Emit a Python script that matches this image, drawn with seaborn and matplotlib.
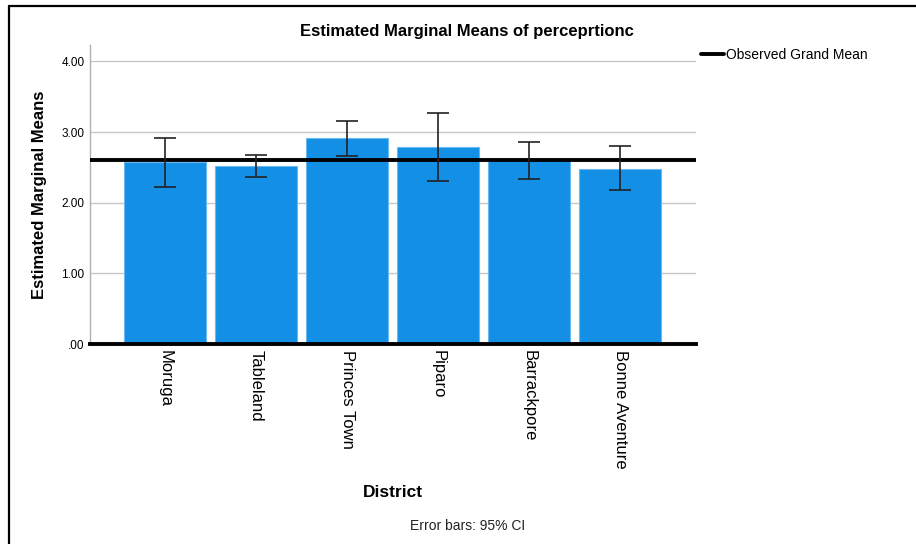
import numpy as np
import pandas as pd
import matplotlib
matplotlib.use('Agg')
import matplotlib.pyplot as plt
import seaborn as sns
from matplotlib.lines import Line2D

# Data
districts = ['Moruga', 'Tableland', 'Princes Town', 'Piparo', 'Barrackpore', 'Bonne Aventure']
means = [2.57, 2.52, 2.91, 2.79, 2.60, 2.48]
ci_low = [2.22, 2.37, 2.66, 2.31, 2.34, 2.18]
ci_high = [2.91, 2.67, 3.16, 3.27, 2.86, 2.80]
grand_mean = 2.60
yticks = [0, 1, 2, 3, 4]
ytick_labels = ['.00', '1.00', '2.00', '3.00', '4.00']

df = pd.DataFrame({'District': districts, 'Mean': means})

sns.set_style('white')
plt.rcParams['font.family'] = ['Liberation Sans', 'DejaVu Sans']
plt.rcParams['text.color'] = 'black'
plt.rcParams['axes.labelcolor'] = 'black'
plt.rcParams['xtick.color'] = 'black'
plt.rcParams['ytick.color'] = 'black'

fig = plt.figure(figsize=(9.16, 5.44), dpi=100)
ax = fig.add_axes([0.0983, 0.3676, 0.6617, 0.5494])

sns.barplot(data=df, x='District', y='Mean', color='#1390e6', saturation=1,
            width=0.9, edgecolor='#6bb8f0', linewidth=0.8, errorbar=None, ax=ax, zorder=2)

yerr = np.array([np.array(means) - np.array(ci_low), np.array(ci_high) - np.array(means)])
ax.errorbar(np.arange(len(districts)), means, yerr=yerr, fmt='none', ecolor='#222222',
            elinewidth=1.2, capsize=8, capthick=1.2, zorder=4)

ax.axhline(grand_mean, color='black', lw=2.8, zorder=3)

ax.set_xlim(-0.824, 5.835)
ax.set_ylim(0, 4.23)
ax.set_yticks(yticks)
ax.set_yticklabels(ytick_labels, fontsize=8.5)
ax.yaxis.grid(True, color='#c8c8c8', lw=1)
ax.set_axisbelow(True)
ax.tick_params(axis='y', length=0, pad=4)
ax.tick_params(axis='x', length=0, pad=4)
ax.set_xticks(range(len(districts)))
ax.set_xticklabels(districts, rotation=270, fontsize=12, va='top', ha='center')

for side in ['top', 'right']:
    ax.spines[side].set_visible(False)
ax.spines['left'].set_color('#b0b0b0')
ax.spines['left'].set_linewidth(1)
ax.spines['bottom'].set_color('black')
ax.spines['bottom'].set_linewidth(2.8)
ax.spines['bottom'].set_zorder(5)

ax.set_xlabel('')
ax.set_ylabel('Estimated Marginal Means', fontsize=12, fontweight='bold', labelpad=10)

fig.text(0.51, 0.942, 'Estimated Marginal Means of perceprtionc', ha='center', va='center',
         fontsize=12, fontweight='bold')
fig.text(0.429, 0.094, 'District', ha='center', va='center', fontsize=12.5, fontweight='bold')
fig.text(0.51, 0.033, 'Error bars: 95% CI', ha='center', va='center', fontsize=10, color='#222222')

handle = Line2D([], [], color='black', lw=2.8)
fig.legend([handle], ['Observed Grand Mean'], loc='center left', bbox_to_anchor=(0.752, 0.899),
           frameon=False, fontsize=10, handlelength=1.6, handletextpad=0.2)

# frame lines along the top and left edges
fig.add_artist(Line2D([0.0098, 0.0098], [0, 0.989], color='black', lw=1.6, transform=fig.transFigure))
fig.add_artist(Line2D([0.0098, 1.0], [0.989, 0.989], color='black', lw=1.6, transform=fig.transFigure))

fig.savefig('out.png', dpi=100)
